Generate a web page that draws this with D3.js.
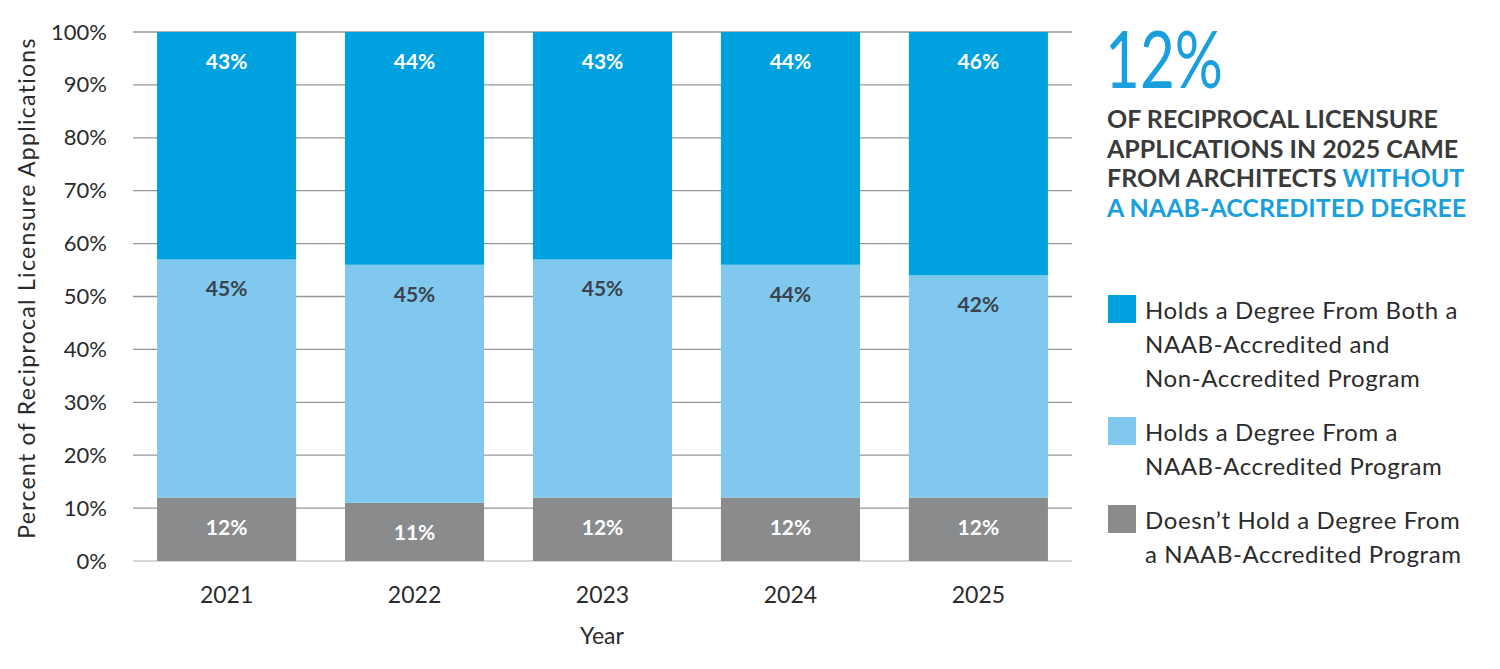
<!DOCTYPE html>
<html>
<head>
<meta charset="utf-8">
<script src="https://cdn.jsdelivr.net/npm/d3@7"></script>
<style>
  body { margin: 0; background: #fff; }
  svg { font-family: Lato, "Open Sans", sans-serif; }
</style>
</head>
<body>
<svg width="1500" height="669"></svg>
<script>
// data (percent of applications)
var years = ["2021", "2022", "2023", "2024", "2025"];
var noDegree = [12, 11, 12, 12, 12];
var naabOnly = [45, 45, 45, 44, 42];
var bothDegrees = [43, 44, 43, 44, 46];
var yTicks = [0, 10, 20, 30, 40, 50, 60, 70, 80, 90, 100];

var keys = ["none", "naab", "both"];
var legendText = {
    both: ["Holds a Degree From Both a", "NAAB-Accredited and", "Non-Accredited Program"],
    naab: ["Holds a Degree From a", "NAAB-Accredited Program"],
    none: ["Doesn\u2019t Hold a Degree From", "a NAAB-Accredited Program"]
};
var color = d3.scaleOrdinal()
    .domain(keys)
    .range(["#8a8b8d", "#80c8ed", "#00a1df"]);
var labelColor = { none: "#ffffff", naab: "#3b424c", both: "#ffffff" };

var rows = years.map(function(y, i) {
    return { year: y, none: noDegree[i], naab: naabOnly[i], both: bothDegrees[i] };
});

var svg = d3.select("svg");

var x = d3.scaleBand()
    .domain(years)
    .range([133, 1072])
    .paddingInner(0.26)
    .paddingOuter(0.128);

var y = d3.scaleLinear()
    .domain([0, 100])
    .range([561, 32]);

// gridlines
svg.append("g")
    .selectAll("line")
    .data(yTicks)
    .enter().append("line")
    .attr("x1", 133)
    .attr("x2", 1072)
    .attr("y1", function(d) { return y(d); })
    .attr("y2", function(d) { return y(d); })
    .attr("stroke", function(d) { return d === 0 ? "#c8c8c8" : "#969696"; })
    .attr("stroke-width", 1.3);

// y axis labels
var yAxis = svg.append("g")
    .attr("transform", "translate(133,0)")
    .call(d3.axisLeft(y).tickValues(yTicks).tickFormat(function(d) { return d + "%"; }).tickSize(0).tickPadding(26));
yAxis.select(".domain").remove();
yAxis.selectAll("text")
    .attr("font-family", "Lato, sans-serif")
    .attr("font-size", 22)
    .attr("fill", "#2b2b2b");

// x axis labels
var xAxis = svg.append("g")
    .attr("transform", "translate(0,561)")
    .call(d3.axisBottom(x).tickSize(0).tickPadding(26));
xAxis.select(".domain").remove();
xAxis.selectAll("text")
    .attr("font-family", "Lato, sans-serif")
    .attr("font-size", 23)
    .attr("fill", "#2b2b2b");

// axis titles
svg.append("text")
    .attr("x", 602)
    .attr("y", 644)
    .attr("text-anchor", "middle")
    .attr("font-size", 23)
    .attr("fill", "#2b2b2b")
    .text("Year");

svg.append("text")
    .attr("transform", "translate(35,288) rotate(-90)")
    .attr("text-anchor", "middle")
    .attr("font-size", 23)
    .attr("letter-spacing", 1.3)
    .attr("fill", "#2b2b2b")
    .text("Percent of Reciprocal Licensure Applications");

// stacked bars
var series = d3.stack().keys(keys)(rows);

var layer = svg.append("g")
    .selectAll("g")
    .data(series)
    .enter().append("g")
    .attr("fill", function(d) { return color(d.key); });

layer.selectAll("rect")
    .data(function(d) { return d; })
    .enter().append("rect")
    .attr("x", function(d) { return x(d.data.year); })
    .attr("y", function(d) { return y(d[1]); })
    .attr("width", x.bandwidth())
    .attr("height", function(d) { return y(d[0]) - y(d[1]); });

// value labels
series.forEach(function(s) {
    svg.append("g")
        .selectAll("text")
        .data(s)
        .enter().append("text")
        .attr("x", function(d) { return x(d.data.year) + x.bandwidth() / 2; })
        .attr("y", function(d) { return y(d[1]) + 37; })
        .attr("text-anchor", "middle")
        .attr("font-size", 21)
        .attr("font-weight", "bold")
        .attr("fill", labelColor[s.key])
        .text(function(d) { return d.data[s.key] + "%"; });
});

// callout
svg.append("text")
    .attr("x", 1105)
    .attr("y", 88)
    .attr("font-size", 80)
    .attr("font-weight", 400)
    .attr("fill", "#1a9fde")
    .attr("textLength", 118)
    .attr("lengthAdjust", "spacingAndGlyphs")
    .text("12%");

var callLines = [
    [["OF RECIPROCAL LICENSURE", "#3a3a3a"]],
    [["APPLICATIONS IN 2025 CAME", "#3a3a3a"]],
    [["FROM ARCHITECTS ", "#3a3a3a"], ["WITHOUT", "#1a9fde"]],
    [["A NAAB-ACCREDITED DEGREE", "#1a9fde"]]
];
callLines.forEach(function(line, i) {
    var t = svg.append("text")
        .attr("x", 1107)
        .attr("y", 128 + i * 29.7)
        .attr("font-size", 25)
        .attr("font-weight", "bold");
    line.forEach(function(part) {
        t.append("tspan").attr("fill", part[1]).text(part[0]);
    });
});

// legend
var legendTop = { both: 295, naab: 417, none: 505 };
var legend = svg.append("g")
    .selectAll("g")
    .data(keys.slice().reverse())
    .enter().append("g")
    .attr("transform", function(d) { return "translate(1108," + legendTop[d] + ")"; });

legend.append("rect")
    .attr("width", 28)
    .attr("height", 28)
    .attr("fill", function(d) { return color(d); });

legend.append("text")
    .attr("font-size", 24)
    .attr("letter-spacing", 0.6)
    .attr("fill", "#2b2b2b")
    .selectAll("tspan")
    .data(function(d) { return legendText[d]; })
    .enter().append("tspan")
    .attr("x", 37)
    .attr("y", function(d, i) { return 24 + i * 34; })
    .text(function(d) { return d; });
</script>
</body>
</html>
